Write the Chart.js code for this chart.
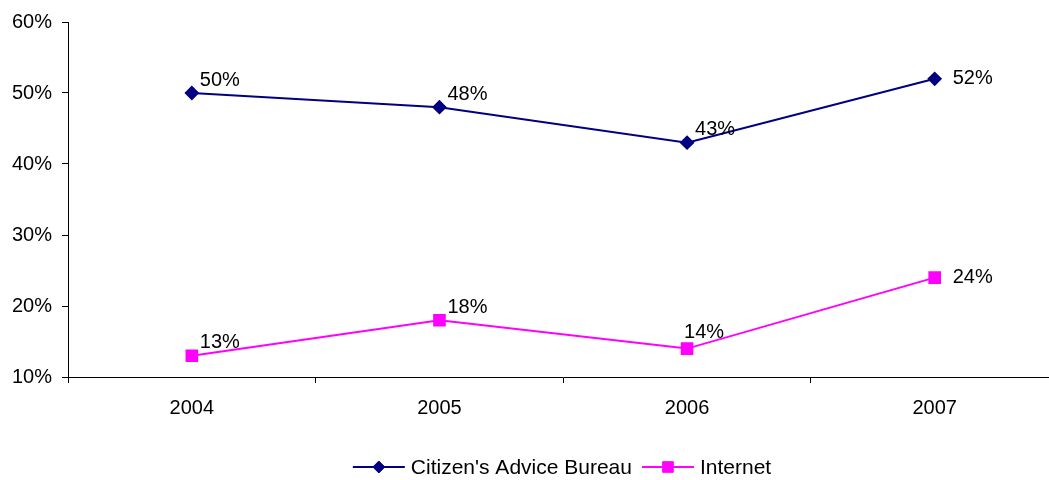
<!DOCTYPE html>
<html>
<head>
<meta charset="utf-8">
<script src="https://cdn.jsdelivr.net/npm/chart.js@4/dist/chart.umd.min.js"></script>
<style>
  html, body { margin: 0; padding: 0; background: #fff; overflow: hidden; }
  #wrap { width: 1049px; height: 480px; overflow: hidden; }
</style>
</head>
<body>
<div id="wrap"><canvas id="chart" width="1068" height="480"></canvas></div>
<script>
// ---------- Data ----------
const years    = ["2004", "2005", "2006", "2007"];
const cabSeries      = [0.50, 0.48, 0.43, 0.52];
const internetSeries = [0.13, 0.18, 0.14, 0.24];
const seriesNames = ["Citizen's Advice Bureau", "Internet"];

const FONT = "'Liberation Sans', Arial, sans-serif";
const pct = v => Math.round(v * 100) + "%";

// label offsets per point (dx, dy from the marker), last point goes to the right
function labelOffset(di, i) {
  if (i === years.length - 1) return { dx: 18, dy: 0 };
  if (di === 1 && i === 2) return { dx: -3, dy: -16 };
  return { dx: 8, dy: -13 };
}

const valueLabels = {
  id: "valueLabels",
  afterDatasetsDraw(chart) {
    const ctx = chart.ctx;
    ctx.save();
    ctx.font = "20px " + FONT;
    ctx.fillStyle = "#000";
    ctx.textBaseline = "middle";
    ctx.textAlign = "left";
    chart.data.datasets.forEach((ds, di) => {
      chart.getDatasetMeta(di).data.forEach((pt, i) => {
        const o = labelOffset(di, i);
        ctx.fillText(pct(ds.data[i]), pt.x + o.dx, pt.y + o.dy);
      });
    });
    ctx.restore();
  }
};

// legend: line + marker, then text
const lineLegend = {
  id: "lineLegend",
  afterDraw(chart) {
    const ctx = chart.ctx;
    const y = 467, lineW = 52, gap = 6, itemGap = 10;
    ctx.save();
    ctx.font = "21px " + FONT;
    const items = chart.data.datasets.map(ds => ({ ds, tw: ctx.measureText(ds.label).width }));
    const total = items.reduce((s, it) => s + lineW + gap + it.tw, 0) + itemGap * (items.length - 1);
    let x = 562 - total / 2;
    items.forEach(it => {
      const ds = it.ds;
      ctx.strokeStyle = ds.borderColor;
      ctx.lineWidth = 2;
      ctx.beginPath(); ctx.moveTo(x, y); ctx.lineTo(x + lineW, y); ctx.stroke();
      ctx.fillStyle = ds.pointBackgroundColor;
      ctx.lineWidth = 1;
      Chart.helpers.drawPoint(ctx, { pointStyle: ds.pointStyle, radius: ds.pointRadius, rotation: 0, borderWidth: 1 }, x + lineW / 2, y);
      ctx.fillStyle = "#000";
      ctx.textAlign = "left";
      ctx.textBaseline = "middle";
      ctx.fillText(ds.label, x + lineW + gap, y + 1);
      x += lineW + gap + it.tw + itemGap;
    });
    ctx.restore();
  }
};

new Chart(document.getElementById("chart"), {
  type: "line",
  data: {
    labels: years,
    datasets: [
      {
        label: seriesNames[0], data: cabSeries,
        borderColor: "#000080", backgroundColor: "#000080",
        pointBackgroundColor: "#000080", pointBorderColor: "#000080",
        pointStyle: "rectRot", pointRadius: 6, borderWidth: 2, tension: 0
      },
      {
        label: seriesNames[1], data: internetSeries,
        borderColor: "#FF00FF", backgroundColor: "#FF00FF",
        pointBackgroundColor: "#FF00FF", pointBorderColor: "#FF00FF",
        pointStyle: "rect", pointRadius: 7.5, borderWidth: 2, tension: 0
      }
    ]
  },
  options: {
    responsive: false,
    animation: false,
    layout: { padding: { left: 2, top: 10, right: 0, bottom: 47 } },
    plugins: { legend: { display: false }, tooltip: { enabled: false } },
    scales: {
      x: {
        offset: true,
        grid: { offset: true, drawOnChartArea: false, drawTicks: true, tickLength: 6, color: "#000" },
        border: { color: "#000", width: 1 },
        ticks: { color: "#000", font: { family: FONT, size: 20 }, padding: 13, maxRotation: 0 }
      },
      y: {
        min: 0.1, max: 0.6,
        grid: { drawOnChartArea: false, drawTicks: true, tickLength: 6, color: "#000" },
        border: { color: "#000", width: 1 },
        ticks: {
          stepSize: 0.1, color: "#000", padding: 10,
          font: { family: FONT, size: 20 },
          callback: v => pct(v)
        }
      }
    }
  },
  plugins: [valueLabels, lineLegend]
});
</script>
</body>
</html>
